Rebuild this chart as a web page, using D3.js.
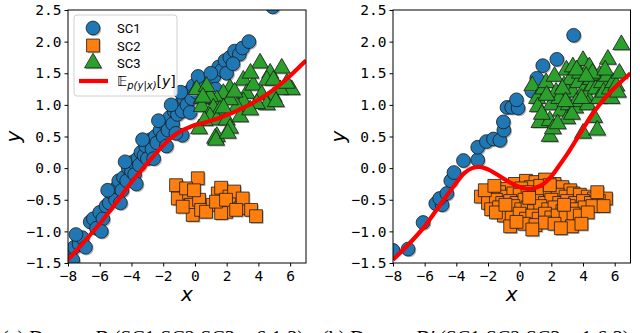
<!DOCTYPE html>
<html>
<head>
<meta charset="utf-8">
<script src="https://cdn.jsdelivr.net/npm/d3@7"></script>
<style>
  body { margin: 0; background: #fff; }
  svg { display: block; }
  .tick text { font-family: "DejaVu Sans Mono", monospace; font-size: 14.5px; fill: #000; }
  .leg { font-family: "Roboto", "DejaVu Sans", sans-serif; font-size: 13px; }
</style>
</head>
<body>
<div id="chart"></div>
<script>
// ---- data ----
var xTicks = [-8, -6, -4, -2, 0, 2, 4, 6];
var yTicks = [-1.5, -1.0, -0.5, 0.0, 0.5, 1.0, 1.5, 2.0, 2.5];
var seriesNames = ["SC1", "SC2", "SC3"];

// dataset D (6:1:3)
var leftSC1 = [[-7.9,-1.35],[-7.7,-1.45],[-7.6,-1.25],[-7.3,-1.2],[-7.1,-1.1],[-6.6,-0.85],[-6.4,-0.8],[-6.2,-0.95],
  [-6.0,-0.7],[-5.8,-0.8],[-5.6,-0.6],[-5.4,-0.55],[-5.2,-0.4],[-5.0,-0.5],[-4.9,-0.3],[-4.8,-0.2],[-4.6,-0.35],
  [-4.5,-0.15],[-4.3,-0.2],[-4.2,0.0],[-4.0,-0.05],[-3.9,0.1],[-3.8,-0.1],[-3.6,0.15],[-3.5,0.05],[-3.4,0.25],
  [-3.2,0.2],[-3.1,0.35],[-3.0,0.15],[-2.8,0.45],[-2.7,0.3],[-2.5,0.5],[-2.4,0.4],[-2.2,0.6],[-2.0,0.5],[-1.9,0.7],
  [-1.7,0.6],[-1.6,0.8],[-1.4,0.7],[-1.3,0.9],[-1.1,0.85],[-1.0,1.0],[-0.8,0.9],[-0.7,1.1],[-0.5,1.0],[-0.4,1.2],
  [-0.2,1.1],[-0.1,1.3],[0.1,1.2],[0.3,1.3],[0.5,1.25],[0.7,1.35],[0.9,1.3],[1.2,1.45],[1.5,1.6],[1.7,1.55],
  [1.9,1.7],[2.2,1.75],[2.5,1.85],[2.8,1.8],[3.0,1.9],[3.4,2.0],[4.9,2.55],[-0.8,0.52],[-1.2,0.55],
  [-7.5,-1.05],[-6.9,-1.25],[-5.9,-1.0],[-5.5,-0.35],[-4.7,-0.55],[-4.4,0.1],[-3.7,-0.25],[-3.3,0.45],
  [-2.6,0.15],[-2.3,0.75],[-1.8,0.35],[-1.5,1.0],[-0.9,1.2],[-0.3,0.88],[0.2,1.45],[0.6,1.1],[1.0,1.5],
  [1.3,1.25],[2.0,1.5],[2.4,1.65]];
var leftSC2 = [[-1.19,-0.27],[0.18,-0.16],[-1.08,-0.48],[-0.37,-0.39],[-0.24,-0.58],[-0.14,-0.74],[0.26,-0.5],
  [0.39,-0.66],[1.12,-0.58],[1.44,-0.4],[1.65,-0.31],[1.96,-0.69],[2.17,-0.45],[2.47,-0.37],[2.91,-0.63],
  [3.01,-0.48],[3.54,-0.66],[3.85,-0.76],[0.7,-0.69],[1.65,-0.71],[-0.56,-0.32],[-0.06,-0.35],[1.33,-0.53],
  [1.96,-0.5],[2.6,-0.66],[-0.77,-0.61]];
var leftSC3 = [[4.1,1.66],[5.47,1.58],[3.05,1.39],[4.74,1.5],[4.53,1.39],[6.1,1.24],[5.37,1.24],[4.95,1.13],
  [2.21,1.26],[1.79,1.18],[3.26,1.18],[3.68,1.31],[4.21,1.16],[4.53,1.0],[3.9,1.02],[3.05,1.05],[2.64,0.97],
  [2.21,1.08],[1.38,1.08],[0.95,1.13],[0.43,1.1],[0.43,0.97],[1.16,0.95],[1.58,0.92],[0.95,0.81],[1.38,0.76],
  [2.0,0.76],[2.21,0.63],[2.85,0.81],[3.48,0.92],[0.11,1.24],[0.74,1.29],[1.38,0.5],[4.95,1.39],[5.79,1.34],
  [1.27,0.47],[0.5,1.12],[0.26,0.62],[1.33,0.44],[2.07,0.55],[0.6,0.75],[1.8,0.95],[3.5,1.5],[2.5,1.2],[5.1,1.05]];

// dataset D' (1:6:3)
var rightSC1 = [[-8.0,-1.3],[-7.05,-1.28],[-6.1,-0.86],[-5.3,-0.56],[-4.9,-0.58],[-5.05,-0.48],[-4.6,-0.4],
  [-4.35,-0.2],[-4.15,-0.07],[-3.55,0.12],[-2.65,0.13],[-2.65,0.33],[-2.1,0.42],[-1.65,0.46],[-1.25,0.44],
  [-1.0,0.6],[-1.03,0.73],[-0.8,0.96],[-0.5,0.96],[-0.1,0.95],[-0.2,1.08],[0.77,1.22],[1.08,1.42],[1.46,1.62],
  [2.35,1.72],[3.41,2.1]];
var rightSC2 = [[-0.3,-0.25],[0.4,-0.2],[1.0,-0.22],[1.6,-0.18],[2.2,-0.25],[0.7,-0.3],[1.3,-0.28],[2.7,-0.3],
  [3.2,-0.35],[-0.8,-0.33],[0.1,-0.32],
  [-2.45,-0.45],[-1.9,-0.4],[-1.3,-0.38],[-0.9,-0.45],[-0.4,-0.4],[0.0,-0.42],[0.5,-0.38],[0.9,-0.45],[1.4,-0.4],
  [1.9,-0.38],[2.4,-0.42],[2.9,-0.45],[3.4,-0.4],[3.8,-0.42],[4.3,-0.45],[4.7,-0.48],[5.45,-0.48],
  [-2.0,-0.55],[-1.5,-0.5],[-1.1,-0.55],[-0.6,-0.52],[-0.2,-0.55],[0.3,-0.5],[0.7,-0.55],[1.1,-0.52],[1.6,-0.55],
  [2.0,-0.5],[2.5,-0.55],[3.0,-0.52],[3.5,-0.55],[4.0,-0.52],[4.5,-0.55],[5.0,-0.52],
  [-1.8,-0.65],[-1.3,-0.62],[-0.8,-0.65],[-0.4,-0.6],[0.1,-0.65],[0.5,-0.62],[0.9,-0.68],[1.3,-0.6],[1.8,-0.65],
  [2.2,-0.62],[2.7,-0.68],[3.1,-0.6],[3.6,-0.65],[4.1,-0.62],[4.6,-0.6],
  [-1.0,-0.75],[-0.5,-0.78],[0.0,-0.72],[0.4,-0.8],[0.8,-0.75],[1.2,-0.8],[1.6,-0.72],[2.0,-0.78],[2.4,-0.75],
  [2.9,-0.78],[3.4,-0.72],[3.8,-0.75],
  [-0.6,-0.92],[0.3,-0.88],[1.0,-0.9],[1.6,-0.86],[2.2,-0.88],[3.3,-0.92],[-1.5,-0.7],[4.3,-0.7],
  [-2.2,-0.35],[-1.6,-0.28],[4.9,-0.38],[5.3,-0.6],[3.9,-0.88],[2.6,-0.95],[0.8,-0.97],[-0.2,-0.85],
  [1.9,-0.27],[0.6,-0.47],[2.8,-0.58],[-0.9,-0.58]];
var rightSC3 = [[0.8,1.3],[1.1,1.1],[1.15,0.97],[1.25,0.72],[1.5,1.25],[1.67,1.35],[1.9,0.5],[1.9,0.75],[2.0,1.0],
  [2.1,0.62],[2.3,1.2],[2.5,1.1],[2.6,0.9],[2.8,1.3],[2.95,1.55],[3.0,0.78],[3.1,1.0],[3.2,1.4],[3.36,1.6],
  [3.36,1.2],[3.5,0.95],[3.6,1.05],[3.7,1.35],[3.8,1.5],[4.0,1.7],[4.0,0.55],[4.1,1.25],[4.2,1.15],[4.3,1.0],
  [4.4,1.6],[4.5,1.4],[4.6,1.3],[4.7,0.8],[4.8,1.25],[4.9,0.6],[5.0,1.1],[5.05,1.47],[5.2,1.35],[5.3,1.2],
  [5.5,1.45],[5.57,1.72],[5.7,1.25],[5.9,1.35],[6.1,1.3],[6.3,1.5],[6.42,1.95],[2.2,1.45],[2.7,1.25],[3.9,1.1],
  [4.6,1.5],[3.3,0.85],[1.4,0.85],[2.4,0.7],[5.8,1.1],[6.2,1.2],[1.7,1.15],[2.9,1.05],[3.6,1.55],[4.2,1.45],[5.4,1.55]];

// E_{p(y|x)}[y] curves
var curveX = [-8,-7,-6,-5,-4,-3.5,-3,-2.5,-2,-1.5,-1,-0.5,0,0.5,1,1.5,2,2.5,3,3.5,4,4.5,5,5.5,6,6.5,7];
var leftCurveY = [-1.45,-1.17,-0.88,-0.56,-0.22,-0.07,0.08,0.22,0.36,0.48,0.57,0.63,0.68,0.71,0.75,0.79,0.84,
  0.89,0.95,1.01,1.08,1.16,1.25,1.35,1.46,1.58,1.7];
var rightCurveY = [-1.45,-1.2,-0.92,-0.57,-0.23,-0.08,0.0,0.02,-0.02,-0.09,-0.17,-0.24,-0.3,-0.33,-0.31,-0.25,
  -0.13,0.04,0.22,0.42,0.62,0.82,0.99,1.14,1.27,1.39,1.5];

var captions = ["(a) Dataset ", "(b) Dataset "];
var captionTails = [" (SC1:SC2:SC3 = 6:1:3)", " (SC1:SC2:SC3 = 1:6:3)"];

var colors = ["#1f77b4", "#ff7f0e", "#2ca02c"];
var symbols = [d3.symbolCircle, d3.symbolSquare, d3.symbolTriangle];
var symSize = [150, 165, 125];

var width = 640, height = 333;
var svg = d3.select("#chart").append("svg")
    .attr("width", width).attr("height", height);

function drawPanel(idx, left, right, sets, curveY, withLegend) {
    var top = 10, bottom = 263;
    var x = d3.scaleLinear().domain([-8, 7]).range([left, right]);
    var y = d3.scaleLinear().domain([-1.5, 2.5]).range([bottom, top]);

    svg.append("clipPath").attr("id", "clip" + idx)
      .append("rect").attr("x", left).attr("y", top)
      .attr("width", right - left).attr("height", bottom - top);

    var plot = svg.append("g").attr("clip-path", "url(#clip" + idx + ")");

    sets.forEach(function(pts, s) {
        var sym = d3.symbol().type(symbols[s]).size(symSize[s]);
        // shadow first, then markers (like a path effect)
        plot.append("g").selectAll("path").data(pts).enter().append("path")
            .attr("d", sym)
            .attr("transform", function(d) { return "translate(" + (x(d[0]) + 1.3) + "," + (y(d[1]) + 1.3) + ")"; })
            .attr("fill", "#9a9a9a").attr("opacity", 0.75);
        plot.append("g").selectAll("path").data(pts).enter().append("path")
            .attr("d", sym)
            .attr("transform", function(d) { return "translate(" + x(d[0]) + "," + y(d[1]) + ")"; })
            .attr("fill", colors[s]).attr("stroke", "#1a1a1a").attr("stroke-width", 0.8);
    });

    var line = d3.line()
        .x(function(d, i) { return x(curveX[i]); })
        .y(function(d) { return y(d); })
        .curve(d3.curveCatmullRom);
    plot.append("path").datum(curveY)
        .attr("d", line)
        .attr("fill", "none").attr("stroke", "#ff0000").attr("stroke-width", 4.2);

    // frame
    svg.append("rect").attr("x", left).attr("y", top)
        .attr("width", right - left).attr("height", bottom - top)
        .attr("fill", "none").attr("stroke", "#000").attr("stroke-width", 1);

    var xa = svg.append("g").attr("transform", "translate(0," + bottom + ")")
        .call(d3.axisBottom(x).tickValues(xTicks).tickSize(3.5).tickPadding(3.5).tickFormat(d3.format("d")));
    var ya = svg.append("g").attr("transform", "translate(" + left + ",0)")
        .call(d3.axisLeft(y).tickValues(yTicks).tickSize(3.5).tickPadding(3).tickFormat(d3.format(".1f")));
    [xa, ya].forEach(function(a) {
        a.select(".domain").remove();
        a.selectAll(".tick line").attr("stroke", "#000");
    });
    xa.selectAll(".tick text").attr("dy", "0.75em");

    svg.append("text")
        .attr("x", (left + right) / 2).attr("y", 301)
        .attr("text-anchor", "middle")
        .style("font-family", "DejaVu Sans").style("font-style", "italic").style("font-size", "20px")
        .text("x");
    svg.append("text")
        .attr("transform", "translate(" + (left - 48) + "," + ((top + bottom) / 2) + ")rotate(-90)")
        .attr("text-anchor", "middle")
        .style("font-family", "DejaVu Sans").style("font-style", "italic").style("font-size", "20px")
        .text("y");

    if (withLegend) {
        var lg = svg.append("g");
        lg.append("rect").attr("x", left + 6).attr("y", 15).attr("width", 103).attr("height", 81)
            .attr("rx", 3).attr("fill", "#fff").attr("fill-opacity", 0.85)
            .attr("stroke", "#d0d0d0").attr("stroke-width", 1);
        var rowsY = [28, 45.5, 63];
        seriesNames.forEach(function(name, s) {
            var sym = d3.symbol().type(symbols[s]).size(symSize[s]);
            lg.append("path").attr("d", sym)
                .attr("transform", "translate(" + (left + 26.3) + "," + (rowsY[s] + 1.3) + ")")
                .attr("fill", "#9a9a9a").attr("opacity", 0.75);
            lg.append("path").attr("d", sym)
                .attr("transform", "translate(" + (left + 25) + "," + rowsY[s] + ")")
                .attr("fill", colors[s]).attr("stroke", "#1a1a1a").attr("stroke-width", 0.8);
            lg.append("text").attr("class", "leg").attr("x", left + 49).attr("y", rowsY[s] + 5)
                .text(name);
        });
        lg.append("line").attr("x1", left + 11).attr("x2", left + 40).attr("y1", 81).attr("y2", 81)
            .attr("stroke", "#ff0000").attr("stroke-width", 4.2);
        var t = lg.append("text").attr("x", left + 49).attr("y", 86)
            .style("font-family", "DejaVu Sans").style("font-size", "14px");
        t.append("tspan").text("𝔼");
        t.append("tspan").attr("dy", 3).style("font-size", "10px").style("font-style", "italic").text("p(y|x)");
        t.append("tspan").attr("dy", -3).text("[");
        t.append("tspan").style("font-style", "italic").text("y");
        t.append("tspan").text("]");
    }

    var cap = svg.append("text")
        .attr("x", idx === 0 ? 2 : 322).attr("y", 345)
        .style("font-family", "Liberation Serif, serif").style("font-size", "20px");
    cap.append("tspan").text(captions[idx]);
    cap.append("tspan").style("font-style", "italic").text(idx === 0 ? "D" : "D\u2032");
    cap.append("tspan").text(captionTails[idx]);
}

drawPanel(0, 68, 306, [leftSC1, leftSC2, leftSC3], leftCurveY, true);
drawPanel(1, 393, 630.5, [rightSC1, rightSC2, rightSC3], rightCurveY, false);
</script>
</body>
</html>
